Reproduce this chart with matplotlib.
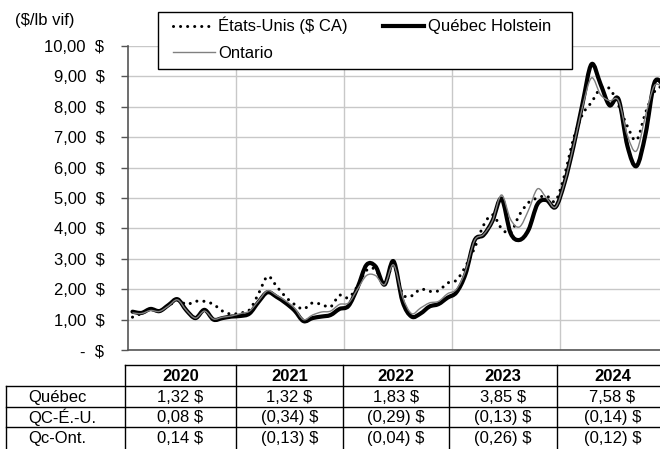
import numpy as np
import matplotlib
matplotlib.use('Agg')
import matplotlib.pyplot as plt
from matplotlib.path import Path
from matplotlib.patches import PathPatch, Rectangle
from matplotlib.lines import Line2D

plt.rcParams['font.family'] = ['Liberation Sans', 'DejaVu Sans']

# prix mensuels ($/lb vif), janvier 2020 a decembre 2024
quebec = [1.26, 1.22, 1.35, 1.28, 1.48, 1.67, 1.30, 1.05, 1.32, 1.00, 1.05, 1.10,
          1.12, 1.20, 1.58, 1.90, 1.75, 1.55, 1.30, 0.95, 1.05, 1.10, 1.15, 1.35,
          1.45, 2.05, 2.80, 2.75, 2.15, 2.92, 1.60, 1.10, 1.20, 1.43, 1.51, 1.72,
          1.90, 2.50, 3.60, 3.78, 4.25, 4.98, 3.85, 3.62, 3.95, 4.80, 4.93, 4.70,
          5.50, 6.70, 8.10, 9.40, 8.75, 8.05, 8.25, 6.70, 6.05, 7.10, 8.80, 8.70]
etats_unis = [1.08, 1.20, 1.32, 1.30, 1.45, 1.64, 1.50, 1.60, 1.60, 1.50, 1.28, 1.18,
              1.22, 1.32, 1.85, 2.42, 2.10, 1.75, 1.50, 1.35, 1.55, 1.50, 1.42, 1.80,
              1.72, 2.10, 2.62, 2.65, 2.15, 2.80, 1.85, 1.78, 2.00, 1.93, 1.95, 2.20,
              2.30, 2.75, 3.35, 4.10, 4.45, 4.00, 3.85, 4.45, 4.85, 5.00, 5.07, 4.90,
              5.75, 6.95, 7.75, 8.15, 8.60, 8.60, 8.05, 7.35, 6.90, 7.80, 8.50, 8.70]
ontario = [1.22, 1.20, 1.30, 1.27, 1.45, 1.65, 1.30, 1.05, 1.28, 1.02, 1.08, 1.12,
           1.20, 1.28, 1.62, 1.95, 1.80, 1.62, 1.38, 1.00, 1.15, 1.25, 1.28, 1.50,
           1.55, 2.00, 2.45, 2.45, 2.15, 2.80, 1.75, 1.20, 1.38, 1.55, 1.60, 1.85,
           2.00, 2.60, 3.60, 3.80, 4.25, 5.10, 4.30, 4.05, 4.60, 5.30, 5.00, 4.70,
           5.50, 6.70, 8.00, 8.95, 8.40, 8.20, 8.20, 7.05, 6.55, 7.70, 8.70, 8.60]

years = ['2020', '2021', '2022', '2023', '2024']
row_labels = ['Québec', 'QC-É.-U.', 'Qc-Ont.']
row_quebec = ['1,32 $', '1,32 $', '1,83 $', '3,85 $', '7,58 $']
row_qc_eu = ['0,08 $', '(0,34) $', '(0,29) $', '(0,13) $', '(0,14) $']
row_qc_ont = ['0,14 $', '(0,13) $', '(0,04) $', '(0,26) $', '(0,12) $']


def smooth_path(x, y):
    # courbe lissee facon Excel (bezier passant par les points)
    x = np.asarray(x, float)
    y = np.asarray(y, float)
    n = len(x)
    verts = [(x[0], y[0])]
    codes = [Path.MOVETO]
    for i in range(n - 1):
        i0 = max(i - 1, 0)
        i3 = min(i + 2, n - 1)
        c1 = (x[i] + (x[i + 1] - x[i0]) / 6, y[i] + (y[i + 1] - y[i0]) / 6)
        c2 = (x[i + 1] - (x[i3] - x[i]) / 6, y[i + 1] - (y[i3] - y[i]) / 6)
        verts += [c1, c2, (x[i + 1], y[i + 1])]
        codes += [Path.CURVE4] * 3
    return Path(verts, codes)


W, H = 660, 449
fig = plt.figure(figsize=(W / 100, H / 100), dpi=100)
ax = fig.add_axes([128 / W, 1 - 350 / H, 532 / W, 304 / H])

months = np.arange(len(quebec)) + 0.5
dots = (0, (0.01, 2.3))

p_us = PathPatch(smooth_path(months, etats_unis), fill=False, color='black', lw=2.2,
                 linestyle=dots, capstyle='round', zorder=2)
p_qc = PathPatch(smooth_path(months, quebec), fill=False, color='black', lw=3.0,
                 joinstyle='round', capstyle='round', zorder=3)
p_on = PathPatch(smooth_path(months, ontario), fill=False, color='#808080', lw=1.0,
                 zorder=4)
for p in (p_us, p_qc, p_on):
    ax.add_patch(p)

ax.set_xlim(0, 532 / 9)
ax.set_ylim(0, 10)
ax.set_xticks([12, 24, 36, 48])
ax.set_xticklabels([])
ax.set_yticks(range(0, 11))
ax.set_yticklabels([('-' if v == 0 else f'{v:.2f}'.replace('.', ',')) + '  $' for v in range(0, 11)],
                   fontsize=12)
ax.tick_params(axis='x', length=0)
ax.tick_params(axis='y', length=5, width=1, color='#555555', pad=12)
ax.grid(True, color='#c8c8c8', lw=1.0)
ax.set_axisbelow(True)
for s in ('top', 'right'):
    ax.spines[s].set_visible(False)
for s in ('left', 'bottom'):
    ax.spines[s].set_color('#555555')
    ax.spines[s].set_linewidth(1.2)

fig.text(15 / W, 1 - 20 / H, '($/lb vif)', fontsize=12, va='center', ha='left')

# legende
h_us = Line2D([], [], color='black', lw=2.2, linestyle=dots, dash_capstyle='round')
h_qc = Line2D([], [], color='black', lw=3.0)
h_on = Line2D([], [], color='#808080', lw=1.0)
leg = ax.legend(handles=[h_us, h_on, h_qc],
                labels=['États-Unis ($ CA)', 'Ontario', 'Québec Holstein'],
                ncol=2, loc='upper left', bbox_to_anchor=(173 / W, 1 - 17 / H),
                bbox_transform=fig.transFigure, frameon=False, fontsize=12,
                handlelength=2.5, handletextpad=0.2, columnspacing=2.1,
                labelspacing=0.7, borderpad=0, borderaxespad=0)
leg.set_zorder(6)
ax.add_patch(Rectangle((158 / W, 1 - 69 / H), 414 / W, 57 / H, transform=fig.transFigure,
                       facecolor='white', edgecolor='black', lw=1.0, zorder=5, clip_on=False))

# tableau sous le graphique
tab_font = ['Liberation Sans Narrow', 'Liberation Sans', 'DejaVu Sans']
tab = fig.add_axes([0, 0, 1, 1])
tab.set_xlim(0, W)
tab.set_ylim(H, 0)
tab.axis('off')
col_x = [125, 236, 343, 449, 557, 668]
row_y = [365, 386, 406.5, 427, 448]
tab.plot([col_x[0], W], [row_y[0], row_y[0]], color='black', lw=1)
for yy in row_y[1:4]:
    tab.plot([6, W], [yy, yy], color='black', lw=1)
tab.plot([6, 6], [row_y[1], H], color='black', lw=1)
for xx in col_x[:5]:
    tab.plot([xx, xx], [row_y[0], H], color='black', lw=1)

for j, yr in enumerate(years):
    xc = (col_x[j] + col_x[j + 1]) / 2
    tab.text(xc, (row_y[0] + row_y[1]) / 2 + 1, yr, ha='center', va='center',
             fontsize=12, fontweight='bold', family=tab_font)
    for i, row in enumerate([row_quebec, row_qc_eu, row_qc_ont]):
        tab.text(xc, (row_y[i + 1] + row_y[i + 2]) / 2 + 1, row[j], ha='center',
                 va='center', fontsize=12, family=tab_font)
for i, lab in enumerate(row_labels):
    tab.text(28, (row_y[i + 1] + row_y[i + 2]) / 2 + 1, lab, ha='left', va='center',
             fontsize=12, family=tab_font)

fig.savefig('out.png', dpi=100)
